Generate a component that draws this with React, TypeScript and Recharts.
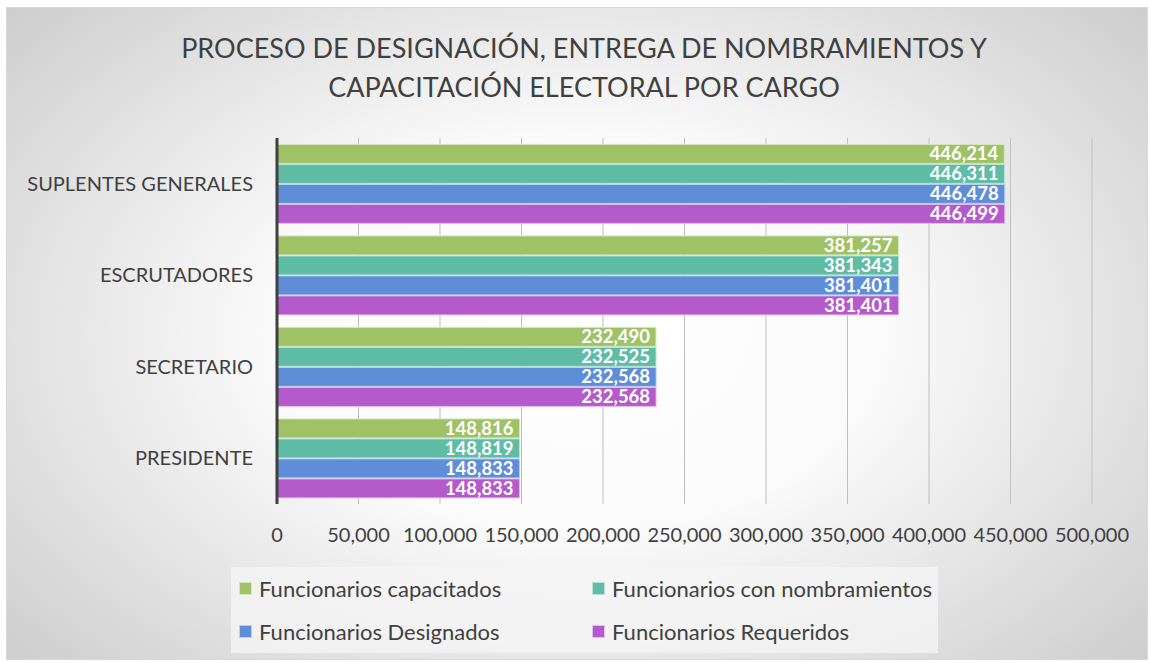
import React from 'react';
import { BarChart, Bar, XAxis, YAxis, CartesianGrid, Legend, LabelList } from 'recharts';

const categories = ['SUPLENTES GENERALES', 'ESCRUTADORES', 'SECRETARIO', 'PRESIDENTE'];
const capacitados = [446214, 381257, 232490, 148816];
const nombramientos = [446311, 381343, 232525, 148819];
const designados = [446478, 381401, 232568, 148833];
const requeridos = [446499, 381401, 232568, 148833];
const xTicks = [0, 50000, 100000, 150000, 200000, 250000, 300000, 350000, 400000, 450000, 500000];

const seriesNames = ['Funcionarios capacitados', 'Funcionarios con nombramientos', 'Funcionarios Designados', 'Funcionarios Requeridos'];
const seriesKeys = ['capacitados', 'nombramientos', 'designados', 'requeridos'];
const fills = ['#9FC267', '#5FBDA6', '#5F8ED8', '#B55ACB'];
const strokes = ['#D6E6BF', '#BCE3D8', '#BBD0F0', '#E3BDEC'];

const data = categories.map((c, i) => ({
  name: c,
  capacitados: capacitados[i],
  nombramientos: nombramientos[i],
  designados: designados[i],
  requeridos: requeridos[i],
}));

const FONT = 'Lato, "Open Sans", sans-serif';
const fmt = (v: any) => Number(v).toLocaleString('en-US');

const LegendContent = () => (
  <div style={{
    background: 'rgba(245,245,245,0.75)', width: 707, height: 86, boxSizing: 'border-box',
    display: 'grid', gridTemplateColumns: '353px 354px', gridTemplateRows: '43px 43px', fontFamily: FONT,
  }}>
    {seriesNames.map((n, i) => (
      <div key={n} style={{ display: 'flex', alignItems: 'center', paddingLeft: 8, fontSize: 22, color: '#404040' }}>
        <span style={{ display: 'inline-block', width: 11, height: 11, background: fills[i], border: `1px solid ${strokes[i]}`, marginRight: 7 }} />
        {n}
      </div>
    ))}
  </div>
);

export default function App() {
  return (
    <div style={{
      position: 'absolute', left: 6, top: 7, width: 1142, height: 653,
      background: 'radial-gradient(ellipse 75% 85% at 50% 50%, #ffffff 0%, #fbfbfb 35%, #c4c4c4 100%)',
      border: '1px solid #d9d9d9', boxSizing: 'border-box', fontFamily: FONT,
    }}>
      <div style={{
        position: 'absolute', left: 0, top: 20, width: 1154, textAlign: 'center',
        fontSize: 27, lineHeight: '39px', color: '#404040', fontFamily: FONT,
      }}>
        PROCESO DE DESIGNACIÓN, ENTREGA DE NOMBRAMIENTOS Y<br />CAPACITACIÓN ELECTORAL POR CARGO
      </div>
      <BarChart
        width={1142}
        height={653}
        data={data}
        layout="vertical"
        margin={{ top: 130, right: 57, bottom: 0, left: 0 }}
        barCategoryGap="7%"
        barGap={1}
        style={{ position: 'absolute', left: 0, top: 0 }}
      >
        <CartesianGrid horizontal={false} vertical={true} stroke="#bfbfbf" strokeWidth={1} />
        <XAxis
          type="number"
          domain={[0, 500000]}
          ticks={xTicks}
          interval={0}
          tickFormatter={fmt}
          axisLine={false}
          tickLine={false}
          height={157}
          tick={{ fill: '#404040', fontSize: 20, fontFamily: FONT, dy: 16 }}
        />
        <YAxis
          type="category"
          dataKey="name"
          width={270}
          axisLine={{ stroke: '#404040', strokeWidth: 3 }}
          tickLine={false}
          tick={{ fill: '#404040', fontSize: 20, fontFamily: FONT, dx: -16 }}
        />
        <Legend
          layout="vertical"
          align="center"
          verticalAlign="middle"
          content={<LegendContent />}
          wrapperStyle={{ position: 'absolute', left: 224, top: 559, width: 707, height: 86 }}
        />
        {seriesKeys.map((k, i) => (
          <Bar key={k} dataKey={k} name={seriesNames[i]} fill={fills[i]} stroke={strokes[i]} strokeWidth={1} isAnimationActive={false}>
            <LabelList dataKey={k} position="insideRight" offset={6} formatter={fmt} fill="#ffffff" fontWeight="bold" fontSize={18.5} fontFamily={FONT} />
          </Bar>
        ))}
      </BarChart>
    </div>
  );
}
